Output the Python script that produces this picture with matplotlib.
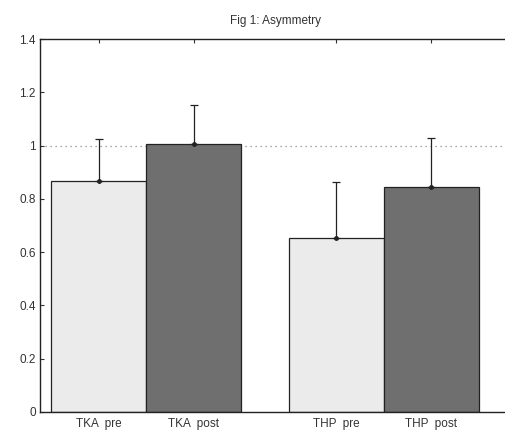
import matplotlib
matplotlib.use('Agg')
import matplotlib.pyplot as plt

# Dados
labels = ['TKA  pre', 'TKA  post', 'THP  pre', 'THP  post']
positions = [1, 2, 3.5, 4.5]
means = [0.867, 1.005, 0.653, 0.845]
upper_err = [0.158, 0.147, 0.21, 0.183]
colors = ['#ebebeb', '#6f6f6f', '#ebebeb', '#6f6f6f']
yticks = [0, 0.2, 0.4, 0.6, 0.8, 1, 1.2, 1.4]
ytick_labels = ['0', '0.2', '0.4', '0.6', '0.8', '1', '1.2', '1.4']

plt.rcParams['font.family'] = ['Liberation Sans', 'DejaVu Sans']

fig = plt.figure(figsize=(5.06, 4.3), dpi=100)
ax = fig.add_axes([40 / 506, 18 / 430, 472 / 506, 373 / 430])

ax.bar(positions, means, width=1.0, color=colors, edgecolor='#222222', linewidth=0.9, zorder=2)

# barras de erro só para cima, com ponto na média
ax.errorbar(positions, means, yerr=[[0] * 4, upper_err], fmt='none', ecolor='#222222',
            elinewidth=0.9, capsize=2.8, capthick=0.9, zorder=3)
ax.plot(positions, means, 'o', color='#222222', markersize=2.5, zorder=4)

# linha pontilhada em 1
ax.axhline(1, color='#888888', linestyle=(0, (1, 3)), linewidth=0.9, zorder=1)

ax.set_xlim(0.384, 0.384 + 472 / 95)
ax.set_ylim(0, 1.4)
ax.set_xticks(positions)
ax.set_xticklabels(labels, fontsize=8.5, color='#333333')
ax.set_yticks(yticks)
ax.set_yticklabels(ytick_labels, fontsize=8.5, color='#333333')
ax.tick_params(direction='in', length=3, width=0.8, top=True, right=False, color='#333333', pad=3)
ax.tick_params(axis='x', pad=4)

for side in ['left', 'bottom', 'top']:
    ax.spines[side].set_linewidth(1.0)
    ax.spines[side].set_color('#222222')
ax.spines['right'].set_visible(False)

ax.set_title('Fig 1: Asymmetry', fontsize=8.5, color='#333333', pad=11)

fig.savefig('out.png', dpi=100)
